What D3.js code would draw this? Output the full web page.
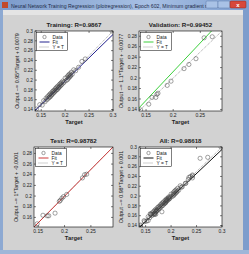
<!DOCTYPE html>
<html>
<head>
<meta charset="utf-8">
<script src="https://cdn.jsdelivr.net/npm/d3@7"></script>
<style>
  body { margin: 0; background: #d2d2d2; }
  svg { display: block; font-family: Arial, "Liberation Sans", sans-serif; }
</style>
</head>
<body>
<div id="fig"></div>
<script>
// values
var trainT = [0.140,0.147,0.152,0.155,0.158,0.160,0.162,0.163,0.165,0.166,0.167,0.168,0.169,0.170,0.171,0.172,0.173,0.174,0.175,0.176,0.177,0.178,0.179,0.180,0.181,0.182,0.183,0.184,0.185,0.186,0.187,0.188,0.189,0.190,0.191,0.192,0.193,0.195,0.196,0.198,0.200,0.202,0.204,0.205,0.206,0.207,0.208,0.209,0.210,0.211,0.212,0.213,0.215,0.218,0.222,0.228,0.235,0.242,0.298];
var trainO = [0.141,0.150,0.149,0.158,0.156,0.163,0.160,0.166,0.163,0.169,0.165,0.171,0.166,0.173,0.169,0.170,0.176,0.172,0.178,0.174,0.179,0.176,0.182,0.178,0.184,0.180,0.186,0.181,0.188,0.184,0.185,0.191,0.187,0.193,0.189,0.195,0.191,0.198,0.194,0.196,0.204,0.199,0.206,0.201,0.209,0.204,0.211,0.206,0.213,0.208,0.210,0.216,0.212,0.221,0.219,0.226,0.238,0.243,0.300];
var valT = [0.140,0.155,0.161,0.168,0.170,0.172,0.189,0.196,0.220,0.229,0.242,0.257,0.272];
var valO = [0.139,0.150,0.163,0.163,0.169,0.171,0.186,0.194,0.218,0.226,0.237,0.277,0.279];
var testT = [0.148,0.159,0.167,0.170,0.182,0.190,0.192,0.195,0.198,0.204,0.234,0.238,0.242];
var testO = [0.148,0.164,0.163,0.163,0.168,0.190,0.192,0.196,0.199,0.203,0.234,0.240,0.241];
var allT = trainT.concat(valT, testT);
var allO = trainO.concat(valO, testO);

var titles = ["Training: R=0.9867", "Validation: R=0.99452", "Test: R=0.98782", "All: R=0.98618"];
var yLabels = ["Output ~= 0.95*Target + 0.0079", "Output ~= 1.1*Target + -0.0077",
               "Output ~= 1*Target + -0.0001", "Output ~= 0.98*Target + 0.001"];
var fitSlope = [0.95, 1.1, 1.0, 0.98];
var fitIcpt = [0.0079, -0.0077, -0.0001, 0.001];
var fitColors = ["#22228e", "#3ccf3c", "#cc3a3a", "#111111"];
var domains = [[0.137, 0.3], [0.137, 0.29], [0.142, 0.292], [0.137, 0.3]];
var xTicks = [[0.15, 0.2, 0.25, 0.3], [0.15, 0.2, 0.25], [0.15, 0.2, 0.25], [0.15, 0.2, 0.25, 0.3]];
var yTicks = [0.14, 0.16, 0.18, 0.2, 0.22, 0.24, 0.26, 0.28, 0.3];
var legendItems = ["Data", "Fit", "Y = T"];

var width = 249, height = 254;
var svg = d3.select("#fig").append("svg").attr("width", width).attr("height", height);

// window frame
var grad = svg.append("defs").append("linearGradient").attr("id", "tb").attr("x1", 0).attr("x2", 1);
grad.append("stop").attr("offset", "0%").attr("stop-color", "#7c9bcb");
grad.append("stop").attr("offset", "60%").attr("stop-color", "#a7c0e4");
grad.append("stop").attr("offset", "100%").attr("stop-color", "#7f9fd0");
svg.append("rect").attr("width", width).attr("height", height).attr("fill", "#d2d2d2");
svg.append("rect").attr("width", width).attr("height", 10).attr("fill", "url(#tb)");
svg.append("rect").attr("x", 0).attr("y", 10).attr("width", 3).attr("height", height - 10).attr("fill", "#8da9d2");
svg.append("rect").attr("x", 243).attr("y", 10).attr("width", 6).attr("height", height - 10).attr("fill", "#7d9dcc");
svg.append("rect").attr("x", 0).attr("y", 250).attr("width", width).attr("height", 4).attr("fill", "#9fb6d8");
svg.append("rect").attr("x", 3).attr("y", 10).attr("width", 240).attr("height", 5).attr("fill", "#e4e4e4");
svg.append("rect").attr("x", 2).attr("y", 2).attr("width", 6).attr("height", 6).attr("fill", "#c24a2a");
svg.append("text").attr("x", 11).attr("y", 7.5).attr("font-size", 5.2).attr("fill", "#1e2c48")
  .text("Neural Network Training Regression (plotregression), Epoch 602, Minimum gradient reached.");
svg.append("rect").attr("x", 206).attr("y", 1).attr("width", 12).attr("height", 7).attr("rx", 1).attr("fill", "#a9c2e6").attr("stroke", "#5a78a8").attr("stroke-width", 0.5);
svg.append("rect").attr("x", 218).attr("y", 1).attr("width", 12).attr("height", 7).attr("rx", 1).attr("fill", "#a9c2e6").attr("stroke", "#5a78a8").attr("stroke-width", 0.5);
svg.append("rect").attr("x", 230).attr("y", 1).attr("width", 16).attr("height", 7).attr("rx", 1).attr("fill", "#d8483a").attr("stroke", "#8a2a22").attr("stroke-width", 0.5);
svg.append("text").attr("x", 238).attr("y", 7).attr("text-anchor", "middle").attr("font-size", 6).attr("font-weight", "bold").attr("fill", "#fff").text("x");

var panels = [
  {x: 35, y: 31, w: 78, h: 80, t: trainT, o: trainO},
  {x: 139, y: 31, w: 83, h: 80, t: valT, o: valO},
  {x: 34, y: 147, w: 79, h: 80, t: testT, o: testO},
  {x: 139, y: 147, w: 83, h: 80, t: allT, o: allO}
];

panels.forEach(function(p, i) {
  var dom = domains[i];
  var x = d3.scaleLinear().domain(dom).range([p.x, p.x + p.w]);
  var y = d3.scaleLinear().domain(dom).range([p.y + p.h, p.y]);
  var g = svg.append("g");
  var clipId = "clip" + i;
  g.append("clipPath").attr("id", clipId).append("rect")
    .attr("x", p.x).attr("y", p.y).attr("width", p.w).attr("height", p.h);

  g.append("rect").attr("x", p.x).attr("y", p.y).attr("width", p.w).attr("height", p.h).attr("fill", "#fff");

  var yt = yTicks.filter(function(v) { return v >= dom[0] && v <= dom[1] + 1e-9; });
  var xt = xTicks[i];

  // ticks (inward, all four sides)
  var tk = g.append("g").attr("stroke", "#000").attr("stroke-width", 0.5);
  xt.forEach(function(v) {
    tk.append("line").attr("x1", x(v)).attr("x2", x(v)).attr("y1", p.y + p.h).attr("y2", p.y + p.h - 2);
    tk.append("line").attr("x1", x(v)).attr("x2", x(v)).attr("y1", p.y).attr("y2", p.y + 2);
  });
  yt.forEach(function(v) {
    tk.append("line").attr("x1", p.x).attr("x2", p.x + 2).attr("y1", y(v)).attr("y2", y(v));
    tk.append("line").attr("x1", p.x + p.w).attr("x2", p.x + p.w - 2).attr("y1", y(v)).attr("y2", y(v));
  });

  var plot = g.append("g").attr("clip-path", "url(#" + clipId + ")");
  // Y = T
  plot.append("line").attr("x1", x(dom[0])).attr("y1", y(dom[0])).attr("x2", x(dom[1])).attr("y2", y(dom[1]))
    .attr("stroke", "#777").attr("stroke-width", 0.7).attr("stroke-dasharray", "1,1");
  // fit
  plot.append("line").attr("x1", x(dom[0])).attr("y1", y(fitSlope[i] * dom[0] + fitIcpt[i]))
    .attr("x2", x(dom[1])).attr("y2", y(fitSlope[i] * dom[1] + fitIcpt[i]))
    .attr("stroke", fitColors[i]).attr("stroke-width", 1);
  // data
  plot.selectAll("circle").data(p.t).enter().append("circle")
    .attr("cx", function(d) { return x(d); })
    .attr("cy", function(d, j) { return y(p.o[j]); })
    .attr("r", 2.1).attr("fill", "none").attr("stroke", "#444").attr("stroke-width", 0.5);

  g.append("rect").attr("x", p.x).attr("y", p.y).attr("width", p.w).attr("height", p.h)
    .attr("fill", "none").attr("stroke", "#000").attr("stroke-width", 0.6);

  // tick labels
  xt.forEach(function(v) {
    g.append("text").attr("x", x(v)).attr("y", p.y + p.h + 6).attr("text-anchor", "middle")
      .attr("font-size", 5).attr("fill", "#222").text(v);
  });
  yt.forEach(function(v) {
    g.append("text").attr("x", p.x - 2).attr("y", y(v) + 1.7).attr("text-anchor", "end")
      .attr("font-size", 4.8).attr("fill", "#222").text(v);
  });

  g.append("text").attr("x", p.x + p.w / 2).attr("y", p.y - 4).attr("text-anchor", "middle")
    .attr("font-size", 6.2).attr("font-weight", "bold").attr("fill", "#222").text(titles[i]);
  g.append("text").attr("x", p.x + p.w / 2).attr("y", p.y + p.h + 13).attr("text-anchor", "middle")
    .attr("font-size", 5.8).attr("font-weight", "bold").attr("fill", "#222").text("Target");
  var lx = p.x - 16;
  g.append("text").attr("transform", "translate(" + lx + "," + (p.y + p.h / 2) + ") rotate(-90)")
    .attr("text-anchor", "middle").attr("font-size", 5.4).attr("fill", "#222").text(yLabels[i]);

  // legend
  var lg = g.append("g").attr("transform", "translate(" + (p.x + 1.5) + "," + (p.y + 1.5) + ")");
  lg.append("rect").attr("width", 31).attr("height", 18).attr("fill", "#fff").attr("stroke", "#000").attr("stroke-width", 0.5);
  legendItems.forEach(function(name, k) {
    var yy = 4.5 + k * 5;
    if (k === 0) {
      lg.append("circle").attr("cx", 8).attr("cy", yy).attr("r", 1.7).attr("fill", "none").attr("stroke", "#444").attr("stroke-width", 0.5);
    } else {
      lg.append("line").attr("x1", 3).attr("x2", 13).attr("y1", yy).attr("y2", yy)
        .attr("stroke", k === 1 ? fitColors[i] : "#777").attr("stroke-width", k === 1 ? 1 : 0.7)
        .attr("stroke-dasharray", k === 2 ? "1,1" : null);
    }
    lg.append("text").attr("x", 16).attr("y", yy + 1.7).attr("font-size", 4.8).attr("fill", "#222").text(name);
  });
});
</script>
</body>
</html>
